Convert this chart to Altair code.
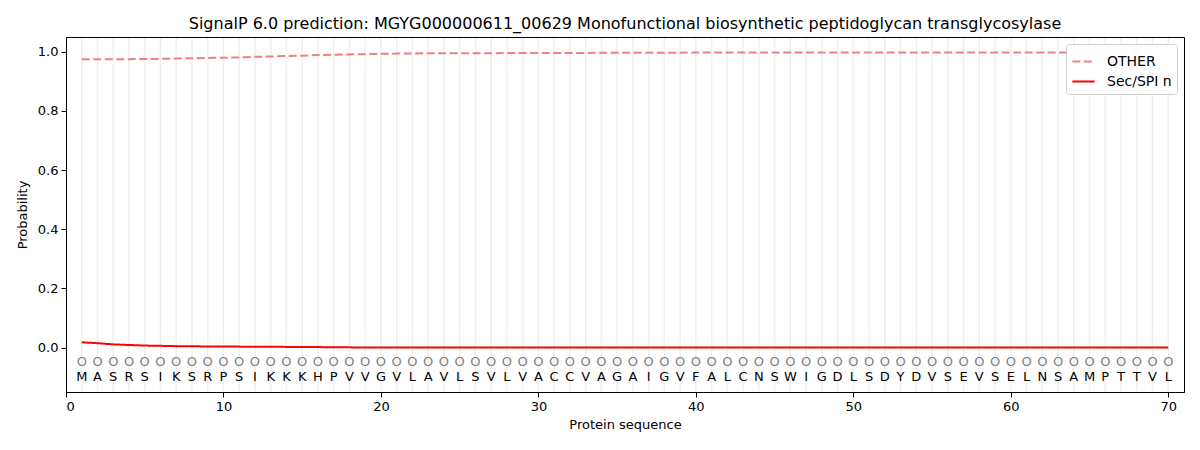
import altair as alt
import pandas as pd

residues = list("MASRSIKSRPSIKKKHPVVGVLAVLSVLVACCVAGAIGVFALCNSWIGDLSDYDVSEVSELNSAMPTTVL")
positions = list(range(1, len(residues) + 1))

other = [0.975, 0.975, 0.975, 0.975, 0.976, 0.976, 0.977, 0.978, 0.979, 0.980,
         0.981, 0.983, 0.984, 0.986, 0.987, 0.989, 0.990, 0.991, 0.992, 0.993,
         0.994, 0.994, 0.995, 0.995, 0.995, 0.995, 0.995, 0.996, 0.996, 0.996,
         0.996, 0.996, 0.996, 0.997, 0.997, 0.997, 0.997, 0.997, 0.997, 0.998,
         0.998, 0.998, 0.998, 0.998, 0.998, 0.998, 0.998, 0.998, 0.998, 0.998,
         0.998, 0.998, 0.998, 0.998, 0.998, 0.998, 0.998, 0.998, 0.998, 0.998,
         0.998, 0.998, 0.998, 0.998, 0.998, 0.998, 0.998, 0.998, 0.998, 0.998]
sec_spi_n = [0.018, 0.015, 0.011, 0.009, 0.007, 0.006, 0.005, 0.0045, 0.004, 0.0037,
             0.0034, 0.003, 0.0028, 0.0025, 0.0022, 0.0018, 0.0013, 0.0009, 0.0005, 0.0003,
             0.0002, 0.0002, 0.0002, 0.0002, 0.0002, 0.0002, 0.0002, 0.0002, 0.0002, 0.0002,
             0.0001, 0.0001, 0.0001, 0.0001, 0.0001, 0.0001, 0.0001, 0.0001, 0.0001, 0.0001,
             0.0001, 0.0001, 0.0001, 0.0001, 0.0001, 0.0001, 0.0001, 0.0001, 0.0001, 0.0001,
             0.0001, 0.0001, 0.0001, 0.0001, 0.0001, 0.0001, 0.0001, 0.0001, 0.0001, 0.0001,
             0.0001, 0.0001, 0.0001, 0.0001, 0.0001, 0.0001, 0.0001, 0.0001, 0.0001, 0.0001]
series_names = ["OTHER", "Sec/SPI n"]
series_colors = ["#f08080", "#ff0000"]
region_label = "O"

seq_df = pd.DataFrame({"pos": positions, "res": residues, "reg": [region_label] * len(residues),
                       "y_res": [-0.1] * len(residues), "y_reg": [-0.05] * len(residues)})
lines_df = pd.concat([
    pd.DataFrame({"pos": positions, "prob": other, "series": series_names[0]}),
    pd.DataFrame({"pos": positions, "prob": sec_spi_n, "series": series_names[1]}),
])

xs = alt.Scale(domain=[0, 71], nice=False, zero=False)
ys = alt.Scale(domain=[-0.15, 1.05], nice=False, zero=False)
FONT = "DejaVu Sans"
H = 355

grid = alt.Chart(seq_df).mark_rule(color="#efefef", strokeWidth=1.5).encode(
    x=alt.X("pos:Q", scale=xs,
            axis=alt.Axis(values=[0, 10, 20, 30, 40, 50, 60, 70], title="Protein sequence", grid=False)),
    y=alt.value(1), y2=alt.value(H - 1),
)

lines = alt.Chart(lines_df).mark_line(strokeWidth=2).encode(
    x=alt.X("pos:Q", scale=xs),
    y=alt.Y("prob:Q", scale=ys,
            axis=alt.Axis(values=[0, 0.2, 0.4, 0.6, 0.8, 1.0], format=".1f", title="Probability", grid=False)),
    color=alt.Color("series:N", scale=alt.Scale(domain=series_names, range=series_colors),
                    legend=alt.Legend(title=None, orient="top-right", offset=7, symbolType="stroke",
                                      symbolSize=500, symbolStrokeWidth=2, labelFontSize=14, labelFont=FONT,
                                      fillColor="white", strokeColor="#d0d0d0", cornerRadius=3,
                                      padding=5, rowPadding=0, labelOffset=11)),
    strokeDash=alt.StrokeDash("series:N", scale=alt.Scale(domain=series_names, range=[[8, 3.5], [1, 0]]),
                              legend=None),
)

regs = alt.Chart(seq_df).mark_text(font=FONT, fontSize=13, color="#808080", baseline="middle").encode(
    x=alt.X("pos:Q", scale=xs), y=alt.Y("y_reg:Q", scale=ys), text="reg:N")
res = alt.Chart(seq_df).mark_text(font=FONT, fontSize=13, color="black", baseline="middle").encode(
    x=alt.X("pos:Q", scale=xs), y=alt.Y("y_res:Q", scale=ys), text="res:N")

chart = alt.layer(grid, lines, regs, res).properties(
    width=1118, height=H,
    title=alt.TitleParams("SignalP 6.0 prediction: MGYG000000611_00629 Monofunctional biosynthetic peptidoglycan transglycosylase",
                          font=FONT, fontSize=16, fontWeight="normal", offset=5),
    autosize=alt.AutoSizeParams(type="none"),
    padding={"left": 58, "top": 29, "right": 7, "bottom": 50},
).configure_view(stroke="black", strokeWidth=1).configure_axis(
    domainColor="black", tickColor="black", tickSize=5, labelFont=FONT, labelFontSize=13,
    titleFont=FONT, titleFontSize=13, titleFontWeight="normal", labelColor="black", titleColor="black",
    zindex=1,
).configure_axisX(titlePadding=5, labelPadding=3).configure_axisY(titlePadding=8, labelPadding=3)

chart.save("out.html", embed_options={"renderer": "svg", "actions": False})
